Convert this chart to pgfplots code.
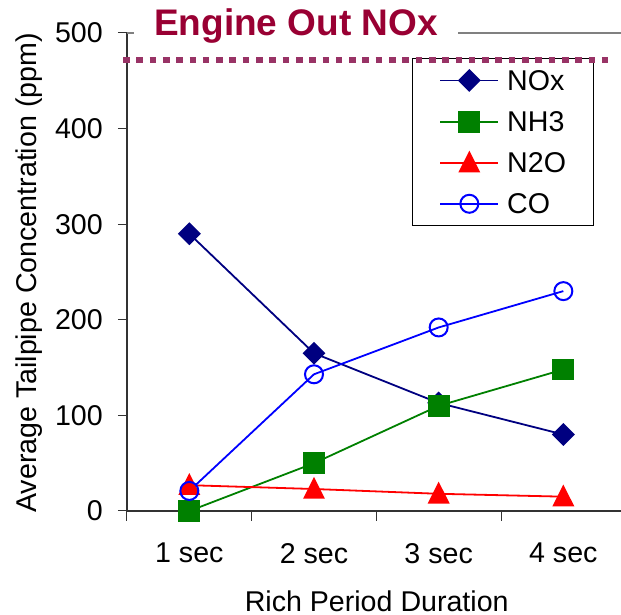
\documentclass[border=0pt]{standalone}
\usepackage{pgfplots}
\pgfplotsset{compat=1.18}
\usepackage{fontspec}
\setmainfont{Liberation Sans}
\definecolor{noxc}{HTML}{000080}
\definecolor{nhc}{HTML}{008000}
\definecolor{nnoc}{HTML}{FF0000}
\definecolor{coc}{HTML}{0000FF}
\definecolor{titlec}{HTML}{990033}
\definecolor{dotc}{HTML}{993366}
\begin{document}
\begin{tikzpicture}[font=\fontsize{28.6}{33}\selectfont]
\begin{axis}[
  at={(127pt,104pt)}, anchor=south west,
  scale only axis, width=494pt, height=478pt,
  xmin=0.5, xmax=4.4625, ymin=0, ymax=500,
  clip=false,
  axis lines=left,
  axis line style={-, draw=black!80, line width=1.3pt},
  /pgf/number format/assume math mode=true,
  xtick={1,2,3,4}, xticklabels={1 sec,2 sec,3 sec,4 sec},
  minor xtick={0.5,1.5,2.5,3.5},
  ytick={0,100,200,300,400,500},
  tick align=inside,
  major tick length=9pt, minor tick length=10pt,
  major x tick style={draw=none},
  minor x tick style={yshift=-10pt, draw=black!80, line width=1pt},
  major y tick style={xshift=-9pt, draw=black!80, line width=1pt},
  xticklabel style={anchor=north, inner sep=0pt, yshift=-32pt},
  yticklabel style={anchor=east, inner sep=0pt, xshift=-24pt},
  xlabel={Rich Period Duration},
  xlabel style={at={(axis description cs:0.5055,-0.2107)}, anchor=base, inner sep=0pt},
  ylabel={Average Tailpipe Concentration (ppm)},
  ylabel style={at={(axis description cs:-0.1842,0.498)}, anchor=base, rotate=0, inner sep=0pt},
  legend cell align=left,
  legend style={at={(axis description cs:0.577,0.948)}, anchor=north west,
    draw=black, line width=0.8pt, inner xsep=27pt, inner ysep=12pt, row sep=21pt,
    nodes={inner sep=0pt, text height=20pt, text depth=0pt},
    /tikz/every odd column/.append style={column sep=8pt}},
  legend image code/.code={\draw[mark repeat=2,mark phase=2,#1] plot coordinates {(0pt,0pt) (29pt,0pt) (58pt,0pt)};},
]
\addplot[noxc, line width=1.8pt, mark=square*, mark size=7.2pt, mark options={rotate=45, solid}]
  coordinates {(1,290) (2,165) (3,113) (4,80)};
\addlegendentry{NOx}
\addplot[nhc, line width=1.8pt, mark=square*, mark size=10pt, mark options={solid}]
  coordinates {(1,0) (2,50) (3,110) (4,148)};
\addlegendentry{NH3}
\addplot[nnoc, line width=1.8pt, mark=triangle*, mark size=11pt, mark options={yshift=-2.5pt, yscale=1.15, solid}]
  coordinates {(1,27) (2,23) (3,18) (4,15)};
\addlegendentry{N2O}
\addplot[coc, line width=1.8pt, mark=o, mark size=9pt, mark options={solid, line width=2pt}]
  coordinates {(1,21) (2,143) (3,192) (4,230)};
\addlegendentry{CO}
\coordinate (tl) at (axis cs:0.5,500);
\coordinate (tr) at (axis cs:4.4625,500);
\coordinate (dl) at (axis cs:0.468,472);
\coordinate (dr) at (axis cs:4.39,472);
\end{axis}
\draw[gray, line width=1.3pt] (tl) -- (tr);
\draw[dotc, line width=6.5pt, dash pattern=on 6.6pt off 6.7pt] (dl) -- (dr);
\node[anchor=base west, inner xsep=20pt, inner ysep=4pt, fill=white, font=\fontsize{37}{40}\selectfont\bfseries, text=titlec] at (134pt,579pt) {Engine Out NOx};
\pgfresetboundingbox
\useasboundingbox (0,0) rectangle (621pt,615pt);
\end{tikzpicture}
\end{document}
